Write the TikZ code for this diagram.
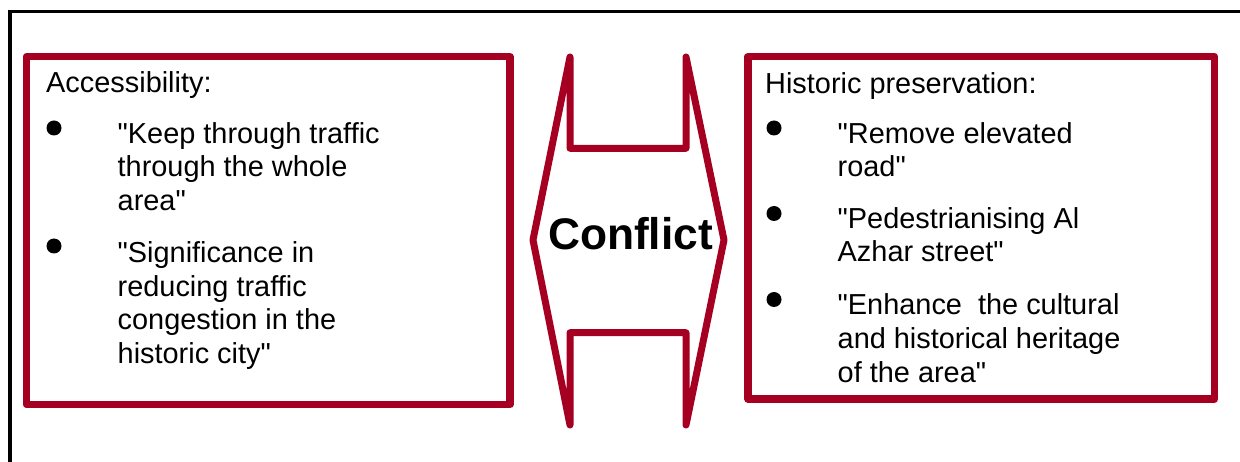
\documentclass[tikz,border=0pt]{standalone}
\usepackage{fontspec}
\setmainfont{Liberation Sans}[Ligatures=TeXOff]
\newcommand\dq{\char34\relax}
\definecolor{cred}{HTML}{A50021}
\begin{document}
\begin{tikzpicture}[x=1pt,y=-1pt,
  redbox/.style={draw=cred,line width=7.5pt,line join=round,inner sep=0pt,outer sep=0pt,anchor=north west},
  frameline/.style={draw=black,line width=3.3pt},
  txt/.style={inner sep=0pt,anchor=base west,font=\fontsize{28.9}{33.6}\selectfont},
  bul/.style={circle,fill=black,inner sep=0pt,minimum size=15pt},
  conf/.style={inner sep=0pt,anchor=base,font=\fontsize{44.3}{50}\selectfont\bfseries}]
\useasboundingbox (0,0) rectangle (1240,462);
\clip (0,0) rectangle (1240,462);
% outer frame
\coordinate (fr1) at (1250,11.7);
\coordinate (fr2) at (10,11.7);
\coordinate (fr3) at (10,475);
\draw[frameline] (fr1) -- (fr2) -- (fr3);
% boxes
\node[redbox,minimum width=483.5pt,minimum height=347.8pt] (lbox) at (26.5,56.7) {};
\node[redbox,minimum width=466.5pt,minimum height=342.3pt] (rbox) at (748,56.7) {};
% double arrow
\coordinate (a1) at (570,57);
\coordinate (a2) at (570,148.3);
\coordinate (a3) at (686,148.3);
\coordinate (a4) at (686,57);
\coordinate (a5) at (724,240);
\coordinate (a6) at (686,425);
\coordinate (a7) at (686,332.7);
\coordinate (a8) at (570,332.7);
\coordinate (a9) at (570,425);
\coordinate (a10) at (533,240);
\draw[draw=cred,line width=7pt,line join=round] (a1) -- (a2) -- (a3) -- (a4) -- (a5) -- (a6) -- (a7) -- (a8) -- (a9) -- (a10) -- cycle;
\node[conf] (conflict) at (630.5,250) {Conflict};
% left text
\node[txt] (lhead) at (46,92.7) {Accessibility:};
\node[bul] (lb1) at (54,128) {};
\node[txt] (li1) at (117.5,143.3) {\parbox[t]{380pt}{\dq Keep through traffic\\through the whole\\area\dq}};
\node[bul] (lb2) at (54,246) {};
\node[txt] (li2) at (117.5,262.7) {\parbox[t]{380pt}{\dq Significance in\\reducing traffic\\congestion in the\\historic city\dq}};
% right text
\node[txt] (rhead) at (765,93.3) {Historic preservation:};
\node[bul] (rb1) at (774,128) {};
\node[txt] (ri1) at (837.5,143.3) {\parbox[t]{380pt}{\dq Remove elevated\\road\dq}};
\node[bul] (rb2) at (774,213.5) {};
\node[txt] (ri2) at (837.5,228.3) {\parbox[t]{380pt}{\dq Pedestrianising Al\\Azhar street\dq}};
\node[bul] (rb3) at (774,299.5) {};
\node[txt] (ri3) at (837.5,315) {\parbox[t]{380pt}{\dq Enhance\ \ the cultural\\and historical heritage\\of the area\dq}};
\end{tikzpicture}
\end{document}
